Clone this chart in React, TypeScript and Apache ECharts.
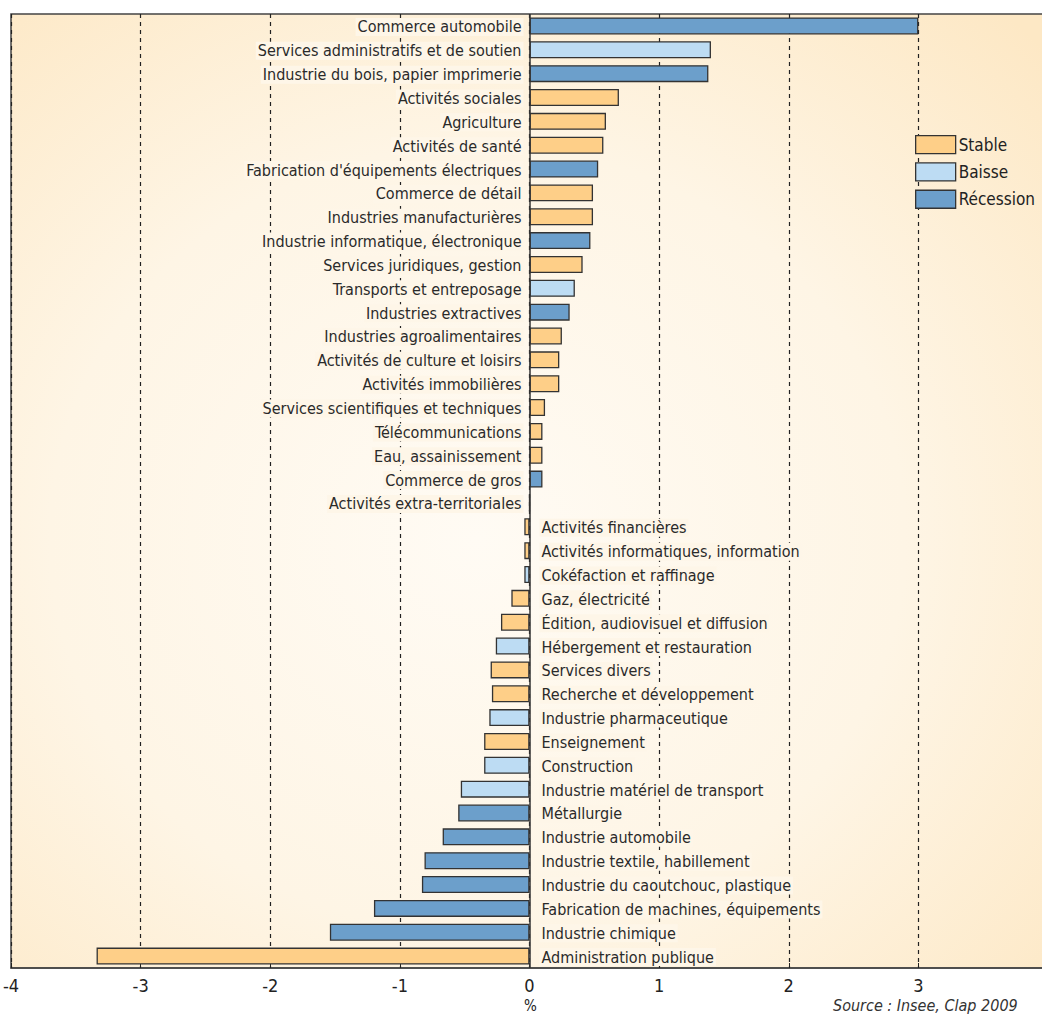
import React, { useEffect, useRef } from "react";
import * as echarts from "echarts";

const categories = [
  "Commerce automobile",
  "Services administratifs et de soutien",
  "Industrie du bois, papier imprimerie",
  "Activités sociales",
  "Agriculture",
  "Activités de santé",
  "Fabrication d'équipements électriques",
  "Commerce de détail",
  "Industries manufacturières",
  "Industrie informatique, électronique",
  "Services juridiques, gestion",
  "Transports et entreposage",
  "Industries extractives",
  "Industries agroalimentaires",
  "Activités de culture et loisirs",
  "Activités immobilières",
  "Services scientifiques et techniques",
  "Télécommunications",
  "Eau, assainissement",
  "Commerce de gros",
  "Activités extra-territoriales",
  "Activités financières",
  "Activités informatiques, information",
  "Cokéfaction et raffinage",
  "Gaz, électricité",
  "Édition, audiovisuel et diffusion",
  "Hébergement et restauration",
  "Services divers",
  "Recherche et développement",
  "Industrie pharmaceutique",
  "Enseignement",
  "Construction",
  "Industrie matériel de transport",
  "Métallurgie",
  "Industrie automobile",
  "Industrie textile, habillement",
  "Industrie du caoutchouc, plastique",
  "Fabrication de machines, équipements",
  "Industrie chimique",
  "Administration publique",
];

const values = [
  3.0, 1.4, 1.38, 0.69, 0.59, 0.57, 0.53, 0.49, 0.49, 0.47, 0.41, 0.35, 0.31,
  0.25, 0.23, 0.23, 0.12, 0.1, 0.1, 0.1, 0, -0.04, -0.04, -0.04, -0.14, -0.22,
  -0.26, -0.3, -0.29, -0.31, -0.35, -0.35, -0.53, -0.55, -0.67, -0.81, -0.83,
  -1.2, -1.54, -3.34,
];

const statuses = [
  "Récession", "Baisse", "Récession", "Stable", "Stable", "Stable", "Récession",
  "Stable", "Stable", "Récession", "Stable", "Baisse", "Récession", "Stable",
  "Stable", "Stable", "Stable", "Stable", "Stable", "Récession", "Stable",
  "Stable", "Stable", "Baisse", "Stable", "Stable", "Baisse", "Stable", "Stable",
  "Baisse", "Stable", "Baisse", "Baisse", "Récession", "Récession", "Récession",
  "Récession", "Récession", "Récession", "Stable",
];

const statusNames = ["Stable", "Baisse", "Récession"];
const statusColors = ["#fecf88", "#bddcf3", "#6c9fcb"];

const axisName = "%";
const sourceText = "Source : Insee, Clap 2009";

const FONT =
  "'Liberation Sans Narrow', 'Arial Narrow', 'DejaVu Sans Condensed', Roboto, sans-serif";
const LABEL_BG = "#fef6e8";

export default function App() {
  const ref = useRef<HTMLDivElement>(null);

  useEffect(() => {
    if (!ref.current) return;
    const chart = echarts.init(ref.current, null, { renderer: "svg" });

    const barSeries = statusNames.map((name, k) => ({
      type: "bar",
      name,
      barGap: "-100%",
      barWidth: 17,
      data: values.map((v, i) => (statuses[i] === name ? v : "-")),
      itemStyle: { color: statusColors[k], borderColor: "#333", borderWidth: 1.3 },
      markLine:
        k === 0
          ? {
              silent: true,
              symbol: "none",
              label: { show: false },
              lineStyle: { color: "#333", type: "solid", width: 1.5 },
              data: [{ xAxis: 0 }],
              z: 5,
            }
          : undefined,
    }));

    const labelSeries = {
      type: "custom",
      name: "labels",
      data: categories.map((c, i) => [0, i]),
      encode: { x: 0, y: 1 },
      z: 4,
      renderItem: (params: any, api: any) => {
        const i = params.dataIndex;
        const p = api.coord([0, i]);
        const neg = values[i] < 0;
        return {
          type: "text",
          x: p[0] + (neg ? 10 : -6),
          y: p[1] + 1,
          style: {
            text: categories[i],
            align: neg ? "left" : "right",
            verticalAlign: "middle",
            fontSize: 16,
            fill: "#2a2a2a",
            fontFamily: FONT,
            backgroundColor: LABEL_BG,
            padding: [1, 2, 1, 2],
          },
        };
      },
    };

    const option = {
      animation: false,
      backgroundColor: "#ffffff",
      textStyle: { fontFamily: FONT },
      grid: {
        left: 11,
        top: 14,
        right: -6,
        bottom: 46,
        outerBoundsMode: "none",
        show: true,
        borderColor: "#444",
        borderWidth: 1.5,
        backgroundColor: new echarts.graphic.RadialGradient(0.45, 0.55, 0.75, [
          { offset: 0, color: "#fffbf4" },
          { offset: 0.55, color: "#fef5e5" },
          { offset: 1, color: "#fde8c5" },
        ]),
      },
      legend: {
        orient: "vertical",
        left: 910,
        top: 130,
        itemWidth: 40,
        itemHeight: 18,
        itemGap: 8,
        icon: "rect",
        data: statusNames,
        textStyle: { fontSize: 17, color: "#222", fontFamily: FONT, padding: [0, 0, 0, -2] },
        itemStyle: { borderColor: "#333", borderWidth: 1.3 },
      },
      xAxis: {
        type: "value",
        min: -4,
        max: 4,
        interval: 1,
        position: "bottom",
        axisLine: { show: true, onZero: false, lineStyle: { color: "#444", width: 1.5 } },
        axisTick: { show: true, inside: true, length: 5, lineStyle: { color: "#222" } },
        axisLabel: { fontSize: 18, color: "#222", margin: 8, fontFamily: FONT },
        splitLine: { show: true, lineStyle: { type: [4, 4], color: "#222", width: 1.2 } },
      },
      yAxis: {
        type: "category",
        data: categories,
        inverse: true,
        axisLine: { show: false },
        axisTick: { show: false },
        axisLabel: { show: false },
        splitLine: { show: false },
      },
      series: [...barSeries, labelSeries],
      graphic: [
        {
          type: "text",
          left: 524,
          top: 998,
          style: {
            text: axisName,
            fontSize: 15,
            fill: "#222",
            fontFamily: FONT,
          },
        },
        {
          type: "text",
          left: 833,
          top: 997,
          style: {
            text: sourceText,
            fontSize: 16,
            fontStyle: "italic",
            fill: "#333",
            fontFamily: FONT,
          },
        },
      ],
    };

    chart.setOption(option as any);
    return () => chart.dispose();
  }, []);

  return (
    <div
      ref={ref}
      style={{ position: "absolute", left: 0, top: 0, width: 1042, height: 1014 }}
    />
  );
}
